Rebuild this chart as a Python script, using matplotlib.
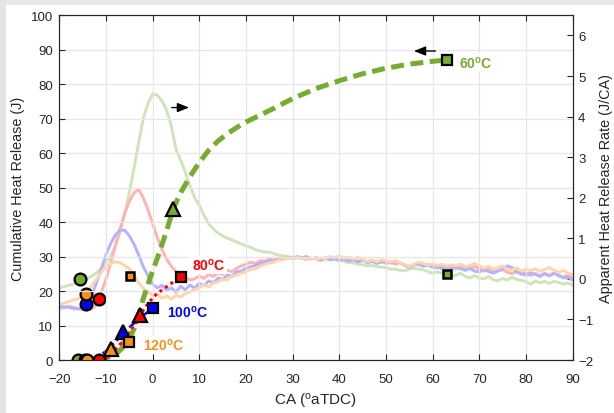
import numpy as np
import matplotlib
matplotlib.use("Agg")
import matplotlib.pyplot as plt
from matplotlib.patches import Rectangle

plt.rcParams['font.family'] = ['Liberation Sans', 'DejaVu Sans']
plt.rcParams['mathtext.fontset'] = 'custom'
plt.rcParams['mathtext.rm'] = 'Liberation Sans'
plt.rcParams['mathtext.it'] = 'Liberation Sans:italic'
plt.rcParams['mathtext.bf'] = 'Liberation Sans:bold'

# ---------------- apparent heat release rate (J/CA), 1 deg resolution ----------------
ca_hrr = np.arange(-20, 91)

hrr_60 = [
    -0.22, -0.19, -0.16, -0.13, -0.09, -0.05, 0.01, 0.07, 0.15, 0.26,
    0.41, 0.55, 0.81, 1.15, 1.61, 2.12, 2.72, 3.36, 3.95, 4.33,
    4.55, 4.53, 4.38, 4.16, 3.78, 3.19, 2.93, 2.63, 2.29, 2.00,
    1.81, 1.57, 1.36, 1.23, 1.13, 1.06, 1.00, 0.96, 0.91, 0.86,
    0.81, 0.78, 0.72, 0.69, 0.66, 0.66, 0.62, 0.58, 0.57, 0.55,
    0.53, 0.52, 0.53, 0.51, 0.50, 0.52, 0.49, 0.50, 0.48, 0.47,
    0.48, 0.43, 0.40, 0.39, 0.36, 0.35, 0.32, 0.33, 0.30, 0.29,
    0.28, 0.24, 0.24, 0.21, 0.20, 0.24, 0.26, 0.24, 0.22, 0.18,
    0.14, 0.17, 0.14, 0.13, 0.07, 0.09, 0.14, 0.06, 0.02, 0.08,
    0.02, 0.00, 0.06, -0.02, -0.05, 0.01, -0.03, 0.04, -0.01, -0.04,
    -0.06, -0.13, -0.05, -0.10, -0.06, -0.11, -0.06, -0.09, -0.13, -0.10,
    -0.15,
]

hrr_80 = [
    -0.73, -0.71, -0.68, -0.70, -0.73, -0.76, -0.77, -0.73, -0.64, -0.34,
    0.00, 0.38, 0.81, 1.23, 1.61, 1.91, 2.12, 2.21, 2.00, 1.70,
    1.36, 1.02, 0.72, 0.49, 0.31, 0.18, 0.08, 0.04, -0.03, 0.00,
    0.07, 0.01, 0.11, 0.06, 0.14, 0.11, 0.21, 0.18, 0.26, 0.32,
    0.36, 0.41, 0.38, 0.45, 0.44, 0.48, 0.47, 0.51, 0.49, 0.52,
    0.50, 0.53, 0.51, 0.48, 0.51, 0.49, 0.45, 0.50, 0.47, 0.51,
    0.46, 0.48, 0.43, 0.47, 0.42, 0.46, 0.41, 0.45, 0.39, 0.42,
    0.38, 0.41, 0.36, 0.40, 0.34, 0.31, 0.35, 0.38, 0.34, 0.36,
    0.30, 0.26, 0.31, 0.28, 0.31, 0.25, 0.28, 0.23, 0.26, 0.30,
    0.24, 0.19, 0.24, 0.18, 0.20, 0.23, 0.16, 0.13, 0.18, 0.11,
    0.15, 0.08, 0.13, 0.07, 0.13, 0.09, 0.14, 0.08, 0.04, 0.09,
    0.02,
]

hrr_100 = [
    -0.67, -0.69, -0.70, -0.73, -0.74, -0.71, -0.60, -0.39, -0.09, 0.25,
    0.59, 0.87, 1.08, 1.20, 1.20, 1.06, 0.86, 0.59, 0.30, 0.08,
    -0.13, -0.22, -0.16, -0.28, -0.22, -0.33, -0.18, -0.27, -0.15, -0.23,
    -0.11, -0.17, -0.05, -0.10, 0.02, -0.01, 0.09, 0.07, 0.18, 0.19,
    0.26, 0.30, 0.33, 0.38, 0.41, 0.45, 0.43, 0.50, 0.48, 0.53,
    0.51, 0.55, 0.52, 0.55, 0.49, 0.52, 0.48, 0.52, 0.47, 0.50,
    0.45, 0.49, 0.44, 0.48, 0.42, 0.47, 0.40, 0.43, 0.38, 0.42,
    0.43, 0.39, 0.44, 0.40, 0.33, 0.28, 0.34, 0.36, 0.31, 0.34,
    0.28, 0.31, 0.25, 0.29, 0.24, 0.30, 0.25, 0.21, 0.26, 0.19,
    0.17, 0.23, 0.18, 0.14, 0.19, 0.24, 0.32, 0.28, 0.17, 0.13,
    0.09, 0.15, 0.11, 0.06, 0.13, 0.07, 0.14, 0.09, 0.02, 0.04,
    -0.03,
]

hrr_120 = [
    -0.62, -0.60, -0.56, -0.52, -0.49, -0.42, -0.32, -0.16, 0.00, 0.16,
    0.30, 0.38, 0.42, 0.40, 0.33, 0.25, 0.08, -0.10, -0.23, -0.33,
    -0.40, -0.37, -0.48, -0.42, -0.50, -0.40, -0.45, -0.36, -0.32, -0.26,
    -0.22, -0.15, -0.20, -0.10, -0.08, -0.01, -0.03, 0.07, 0.09, 0.14,
    0.17, 0.24, 0.24, 0.31, 0.35, 0.39, 0.41, 0.46, 0.47, 0.52,
    0.49, 0.53, 0.50, 0.47, 0.51, 0.48, 0.52, 0.49, 0.55, 0.52,
    0.57, 0.51, 0.54, 0.49, 0.53, 0.48, 0.43, 0.47, 0.42, 0.47,
    0.45, 0.41, 0.45, 0.40, 0.35, 0.30, 0.36, 0.41, 0.38, 0.34,
    0.37, 0.33, 0.36, 0.31, 0.35, 0.32, 0.37, 0.30, 0.33, 0.38,
    0.32, 0.26, 0.31, 0.24, 0.28, 0.32, 0.24, 0.21, 0.27, 0.19,
    0.24, 0.20, 0.25, 0.18, 0.23, 0.28, 0.21, 0.16, 0.21, 0.14,
    0.11,
]

# ---------------- cumulative heat release (J) ----------------
ca_chr_60 = [-16, -14, -12, -10, -8, -7, -6, -5, -4, -3, -2, -1, 0, 1, 2, 3, 4.4,
             6, 8, 10, 12, 14, 16, 18, 20, 23, 26, 30, 35, 40, 45, 50, 55, 60, 63]
chr_60 = [0, 0, 0.2, 0.6, 1.6, 2.8, 4.2, 6.2, 9, 13, 17.8, 22, 25.8, 29.5, 33.5, 37.5, 43.8,
          48.5, 53.2, 57.3, 60.8, 63.5, 65.6, 67.4, 69, 71, 73, 75.8, 78.7, 81, 83, 84.6, 85.8, 86.6, 87]

ca_chr_80 = [-11.6, -10.5, -9, -8.5, -7, -5.6, -4.5, -3.4, -2.7, -1.5, 0, 1, 2.2, 4.4, 6]
chr_80 = [0, 0.3, 1.2, 2.3, 4.5, 7, 9.3, 11, 13, 15.5, 18, 19.3, 20.5, 22.6, 24.2]

ca_chr_100 = [-14.4, -13, -12, -11, -10, -9, -8, -7, -6.3, -5, -4, -3, -2, -1, 0]
chr_100 = [0, 0.3, 0.8, 1.6, 2.6, 3.8, 5.2, 6.8, 8.1, 9.5, 10.6, 11.8, 12.9, 14, 15]

ca_chr_120 = [-14.1, -13, -12, -11, -10, -9, -8, -7, -6, -5]
chr_120 = [0, 0.15, 0.4, 1.0, 1.9, 3.2, 4.0, 4.6, 5.0, 5.2]

# ---------------- combustion markers ----------------
# start of combustion (crank angle), CA50 and end-of-combustion points
soc_ca = {'60': -15.9, '80': -11.6, '100': -14.4, '120': -14.1}
soc_hrr = {'60': 0.0, '80': -0.50, '100': -0.62, '120': -0.37}
soc_hrr_ca = {'60': -15.6, '80': -11.4, '100': -14.3, '120': -14.3}
ca50 = {'60': (4.4, 43.8), '80': (-2.7, 13.0), '100': (-6.3, 8.1), '120': (-9.0, 3.2)}
eoc = {'60': (63.0, 87.0), '80': (6.0, 24.2), '100': (0.0, 15.0), '120': (-5.0, 5.2)}
eoc_hrr = {'60': (63.0, 0.13), '80': (6.0, 0.08), '120': (-4.9, 0.07)}

colors = {'60': '#77ac30', '80': '#ff0000', '100': '#0000ff', '120': '#f7901e'}
light = {'60': '#cfe4bb', '80': '#ffb3b3', '100': '#b3b3ff', '120': '#ffd6ab'}

fig = plt.figure(figsize=(6.14, 4.14), dpi=100)
fig.patches.append(Rectangle((0, 1 - 6 / 414), 1, 6 / 414, transform=fig.transFigure,
                             facecolor='#e8e8e8', edgecolor='none', zorder=-5))
fig.patches.append(Rectangle((0, 0), 6 / 614, 1, transform=fig.transFigure,
                             facecolor='#e4e4e4', edgecolor='none', zorder=-5))

ax1 = fig.add_axes([0.0966, 0.128, 0.836, 0.833])
ax2 = ax1.twinx()
ax1.set_zorder(ax2.get_zorder() + 1)
ax1.patch.set_visible(False)

# heat release rate traces on the right axis
hrr = {'60': hrr_60, '80': hrr_80, '100': hrr_100, '120': hrr_120}
for t in ['60', '80', '100', '120']:
    ax2.plot(ca_hrr, hrr[t], color=light[t], lw=2.1, solid_joinstyle='round')

# cumulative heat release on the left axis
ax1.plot(ca_chr_60, chr_60, color=colors['60'], lw=3.6, ls=(0, (2.6, 1.3)))
ax1.plot(ca_chr_100, chr_100, color=colors['100'], lw=1.8, ls=(0, (3.5, 1.5, 1, 1.5)))
ax1.plot(ca_chr_120, chr_120, color=colors['120'], lw=3.6, ls=(0, (2.6, 1.3)))
ax1.plot(ca_chr_80, chr_80, color=colors['80'], lw=2.2, ls=(0, (1.0, 1.2)))

mk = dict(markeredgecolor='k', markeredgewidth=1.6, ls='none')
for t in ['60', '80', '100', '120']:
    ax2.plot(soc_hrr_ca[t], soc_hrr[t], 'o', ms=8.5, color=colors[t], **mk)
for t in ['60', '80', '100', '120']:
    ax1.plot(soc_ca[t], 0, 'o', ms=8.5, color=colors[t], **mk)
for t in ['60', '120', '100', '80']:
    ax1.plot(*ca50[t], '^', ms=9.5, color=colors[t], **mk)
for t in ['60', '120', '100', '80']:
    ax1.plot(*eoc[t], 's', ms=7, color=colors[t], **mk)
for t in ['60', '80', '120']:
    ax2.plot(*eoc_hrr[t], 's', ms=5.8, color=colors[t], markeredgecolor='k',
             markeredgewidth=1.8, ls='none')

# temperature labels
box = dict(facecolor='white', edgecolor='none', pad=1.0)
lab = dict(fontsize=10, fontweight='bold', va='center', ha='left', bbox=box)
ax1.text(65.6, 86.3, '60$^{\\mathbf{o}}$C', color=colors['60'], **lab)
ax1.text(8.4, 27.8, '80$^{\\mathbf{o}}$C', color=colors['80'], **lab)
ax1.text(3.0, 13.9, '100$^{\\mathbf{o}}$C', color=colors['100'], **lab)
ax1.text(-2.0, 4.4, '120$^{\\mathbf{o}}$C', color=colors['120'], **lab)

# axis-assignment arrows
arrow = dict(arrowstyle='-|>,head_length=0.7,head_width=0.28', color='k', lw=1.0,
             shrinkA=0, shrinkB=0)
ax1.annotate('', xy=(7.8, 73.2), xytext=(4.1, 73.2), arrowprops=arrow)
ax1.annotate('', xy=(56.0, 89.6), xytext=(60.6, 89.6), arrowprops=arrow)

# axes styling
ax1.set_xlim(-20, 90)
ax1.set_ylim(0, 100)
ax1.set_xticks(np.arange(-20, 91, 10))
ax1.set_yticks(np.arange(0, 101, 10))
ax2.set_ylim(-2, 6.5)
ax2.set_yticks(np.arange(-2, 7, 1))

ax1.grid(True, color='#e6e6e6', lw=0.9)
ax1.set_axisbelow(True)

for ax in (ax1, ax2):
    for s in ax.spines.values():
        s.set_color('#262626')
        s.set_linewidth(0.8)
ax1.tick_params(axis='both', direction='in', length=4, width=0.8, colors='#262626',
                labelsize=9.5, labelcolor='#262626', top=True, right=False)
ax1.tick_params(axis='x', pad=9)
ax1.tick_params(axis='y', pad=4.5)
ax2.tick_params(axis='y', direction='in', length=4, width=0.8, colors='#262626',
                labelsize=9.5, labelcolor='#262626', pad=4)

ax1.set_xlabel('CA ($^{\\rm o}$aTDC)', fontsize=11, color='#262626', va='center')
ax1.xaxis.set_label_coords(0.5, -0.116)
ax1.set_ylabel('Cumulative Heat Release (J)', fontsize=10.4, color='#262626',
               va='center', ha='center')
ax1.yaxis.set_label_coords(-0.081, 0.5)
ax2.set_ylabel('Apparent Heat Release Rate (J/CA)', fontsize=10.4, color='#262626',
               rotation=90, va='center', ha='center')
ax2.yaxis.set_label_coords(1.066, 0.5)

fig.savefig('out.png', dpi=100)
